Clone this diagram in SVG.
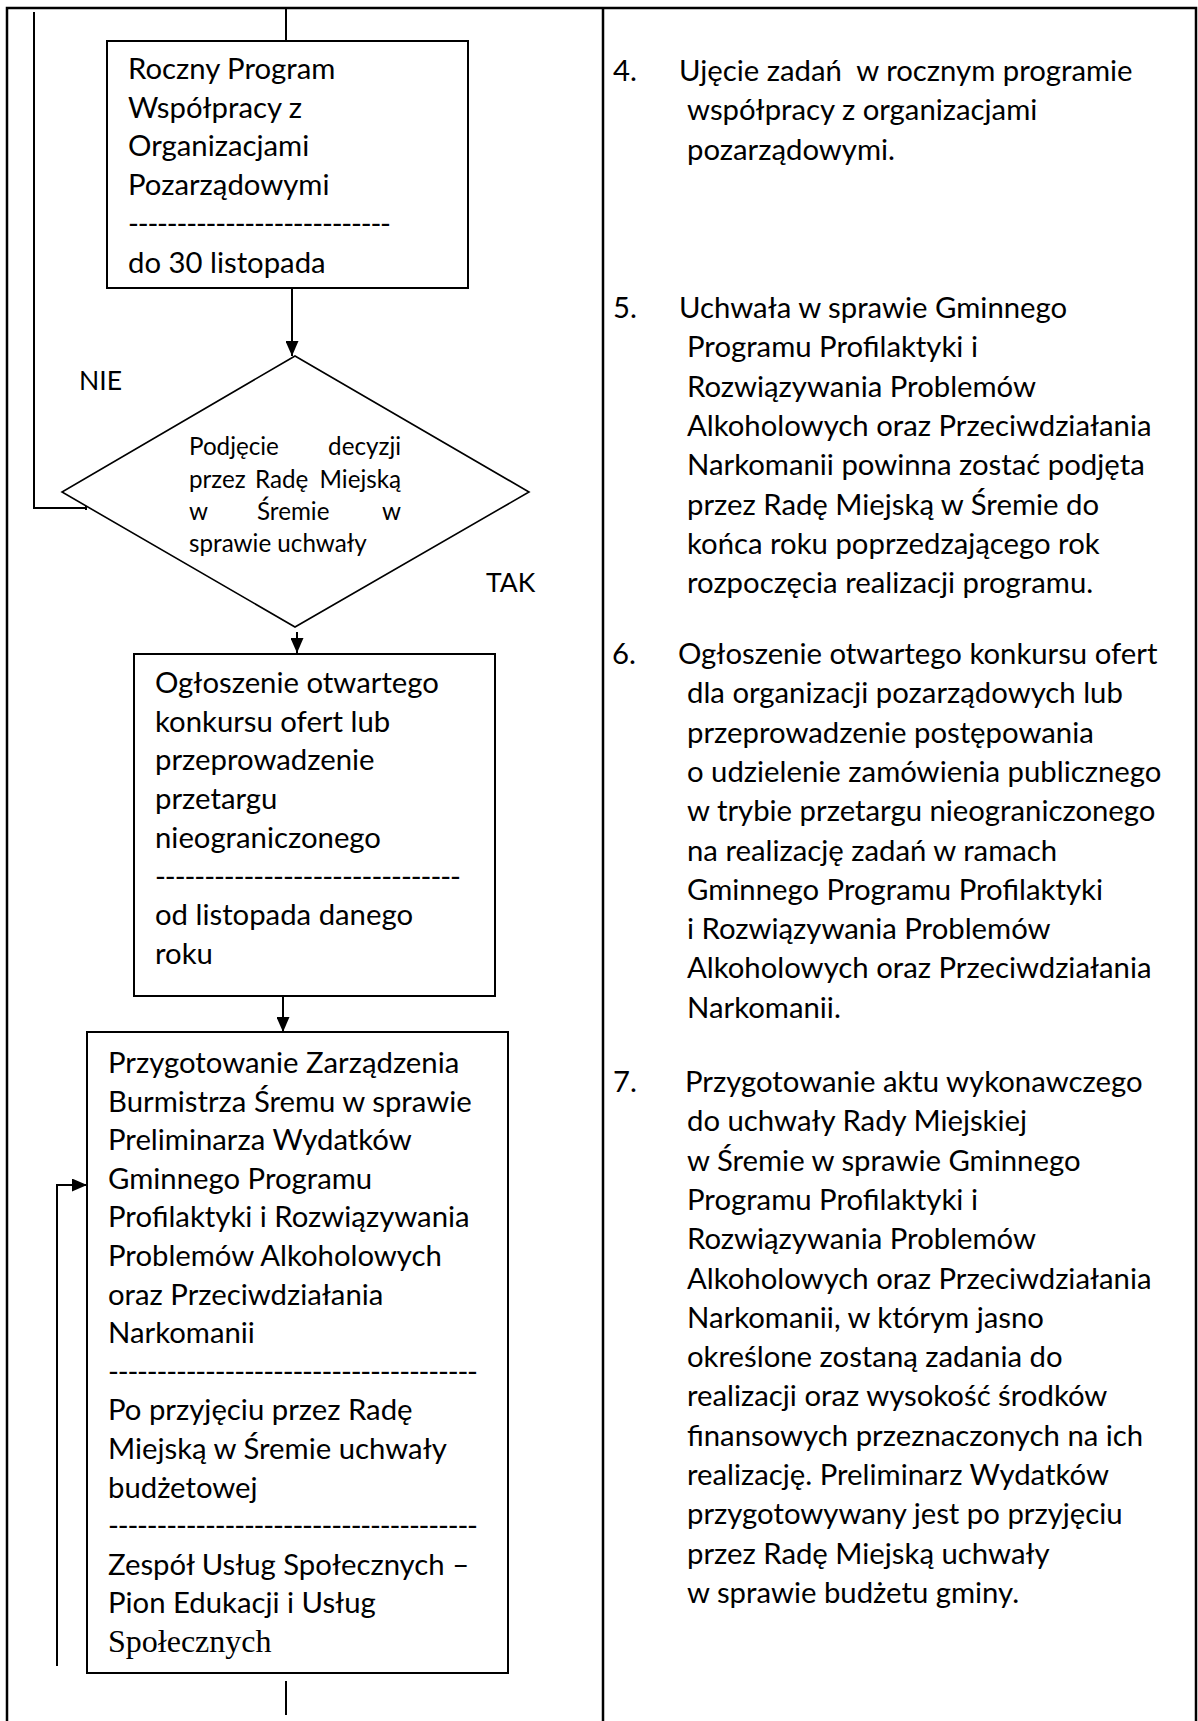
<svg xmlns="http://www.w3.org/2000/svg" width="1198" height="1721" viewBox="0 0 1198 1721">
<style>
.frame{fill:none;stroke:#000;stroke-width:2.5}
.box{fill:#fff;stroke:#000;stroke-width:2}
.dia{fill:#fff;stroke:#000;stroke-width:1.6}
.con{fill:none;stroke:#000;stroke-width:2}
.t{font-family:Lato,"Liberation Sans",sans-serif;font-size:29.3px;fill:#000;white-space:pre}
.d{font-family:Lato,"Liberation Sans",sans-serif;font-size:24.2px;fill:#000}
.lb{font-family:Lato,"Liberation Sans",sans-serif;font-size:26.5px;fill:#000}
.s{font-family:"Liberation Serif","Times New Roman",serif;font-size:32px;fill:#000}
</style>
<defs>
<marker id="ah" viewBox="0 0 15 13" refX="15" refY="6.5" markerWidth="15" markerHeight="13" markerUnits="userSpaceOnUse" orient="auto">
<path d="M0,0 L15,6.5 L0,13 z" fill="#000"/>
</marker>
</defs>
<rect x="0" y="0" width="1198" height="1721" fill="#fff"/>
<g id="frame">
<path class="frame" d="M7,1721 V8 H1196 V1721"/>
<path class="frame" d="M603,8 V1721"/>
</g>
<g id="connectors">
<path class="con" d="M286,8 V41"/>
<path class="con" d="M292,288 V356" marker-end="url(#ah)"/>
<path class="con" d="M34,12 V508 H86 M86,503 V510"/>
<path class="con" d="M297,632 V653" marker-end="url(#ah)"/>
<path class="con" d="M283,996 V1032" marker-end="url(#ah)"/>
<path class="con" d="M57,1666 V1185 H87" marker-end="url(#ah)"/>
<path class="con" d="M286,1681 V1715"/>
<text class="lb" x="79" y="390">NIE</text>
<text class="lb" x="486" y="592">TAK</text>
</g>
<g id="box1">
<rect class="box" x="107" y="41" width="361" height="247"/>
<text class="t" x="128" y="79">Roczny Program</text>
<text class="t" x="128" y="117.7">Współpracy z</text>
<text class="t" x="128" y="156.4">Organizacjami</text>
<text class="t" x="128" y="195.1">Pozarządowymi</text>
<text class="t" x="128" y="233.8" textLength="263">---------------------------</text>
<text class="t" x="128" y="272.5">do 30 listopada</text>
</g>
<g id="decision">
<polygon class="dia" points="295,356 529,492 295,627 62,492"/>
<text class="d" x="189" y="455">Podjęcie</text>
<text class="d" x="401" y="455" text-anchor="end">decyzji</text>
<text class="d" x="189" y="488">przez</text>
<text class="d" x="255" y="488">Radę</text>
<text class="d" x="401" y="488" text-anchor="end">Miejską</text>
<text class="d" x="189" y="520">w</text>
<text class="d" x="257" y="520">Śremie</text>
<text class="d" x="401" y="520" text-anchor="end">w</text>
<text class="d" x="189" y="552">sprawie uchwały</text>
</g>
<g id="box2">
<rect class="box" x="134" y="654" width="361" height="342"/>
<text class="t" x="155" y="693">Ogłoszenie otwartego</text>
<text class="t" x="155" y="731.7">konkursu ofert lub</text>
<text class="t" x="155" y="770.4">przeprowadzenie</text>
<text class="t" x="155" y="809.1">przetargu</text>
<text class="t" x="155" y="847.8">nieograniczonego</text>
<text class="t" x="155" y="886.5" textLength="306">-------------------------------</text>
<text class="t" x="155" y="925.2">od listopada danego</text>
<text class="t" x="155" y="963.9">roku</text>
</g>
<g id="box3">
<rect class="box" x="87" y="1032" width="421" height="641"/>
<text class="t" x="108" y="1073">Przygotowanie Zarządzenia</text>
<text class="t" x="108" y="1111.6">Burmistrza Śremu w sprawie</text>
<text class="t" x="108" y="1150.2">Preliminarza Wydatków</text>
<text class="t" x="108" y="1188.8">Gminnego Programu</text>
<text class="t" x="108" y="1227.4">Profilaktyki i Rozwiązywania</text>
<text class="t" x="108" y="1266">Problemów Alkoholowych</text>
<text class="t" x="108" y="1304.6">oraz Przeciwdziałania</text>
<text class="t" x="108" y="1343.2">Narkomanii</text>
<text class="t" x="108" y="1381.8" textLength="370">--------------------------------------</text>
<text class="t" x="108" y="1420.4">Po przyjęciu przez Radę</text>
<text class="t" x="108" y="1459">Miejską w Śremie uchwały</text>
<text class="t" x="108" y="1497.6">budżetowej</text>
<text class="t" x="108" y="1536.2" textLength="370">--------------------------------------</text>
<text class="t" x="108" y="1574.8">Zespół Usług Społecznych –</text>
<text class="t" x="108" y="1613.4">Pion Edukacji i Usług</text>
<text class="s" x="108" y="1652">Społecznych</text>
</g>
<g id="notes">
<text class="t" x="613" y="81">4.</text>
<text class="t" x="679" y="81">Ujęcie zadań  w rocznym programie</text>
<text class="t" x="687" y="120.3">współpracy z organizacjami</text>
<text class="t" x="687" y="159.6">pozarządowymi.</text>

<text class="t" x="613" y="318">5.</text>
<text class="t" x="679" y="318">Uchwała w sprawie Gminnego</text>
<text class="t" x="687" y="357.3">Programu Profilaktyki i</text>
<text class="t" x="687" y="396.6">Rozwiązywania Problemów</text>
<text class="t" x="687" y="435.9">Alkoholowych oraz Przeciwdziałania</text>
<text class="t" x="687" y="475.2">Narkomanii powinna zostać podjęta</text>
<text class="t" x="687" y="514.5">przez Radę Miejską w Śremie do</text>
<text class="t" x="687" y="553.8">końca roku poprzedzającego rok</text>
<text class="t" x="687" y="593.1">rozpoczęcia realizacji programu.</text>

<text class="t" x="612" y="664">6.</text>
<text class="t" x="678" y="664">Ogłoszenie otwartego konkursu ofert</text>
<text class="t" x="687" y="703.3">dla organizacji pozarządowych lub</text>
<text class="t" x="687" y="742.6">przeprowadzenie postępowania</text>
<text class="t" x="687" y="781.9">o udzielenie zamówienia publicznego</text>
<text class="t" x="687" y="821.2">w trybie przetargu nieograniczonego</text>
<text class="t" x="687" y="860.5">na realizację zadań w ramach</text>
<text class="t" x="687" y="899.8">Gminnego Programu Profilaktyki</text>
<text class="t" x="687" y="939.1">i Rozwiązywania Problemów</text>
<text class="t" x="687" y="978.4">Alkoholowych oraz Przeciwdziałania</text>
<text class="t" x="687" y="1017.7">Narkomanii.</text>

<text class="t" x="613" y="1092">7.</text>
<text class="t" x="685" y="1092">Przygotowanie aktu wykonawczego</text>
<text class="t" x="687" y="1131.3">do uchwały Rady Miejskiej</text>
<text class="t" x="687" y="1170.6">w Śremie w sprawie Gminnego</text>
<text class="t" x="687" y="1209.9">Programu Profilaktyki i</text>
<text class="t" x="687" y="1249.2">Rozwiązywania Problemów</text>
<text class="t" x="687" y="1288.5">Alkoholowych oraz Przeciwdziałania</text>
<text class="t" x="687" y="1327.8">Narkomanii, w którym jasno</text>
<text class="t" x="687" y="1367.1">określone zostaną zadania do</text>
<text class="t" x="687" y="1406.4">realizacji oraz wysokość środków</text>
<text class="t" x="687" y="1445.7">finansowych przeznaczonych na ich</text>
<text class="t" x="687" y="1485">realizację. Preliminarz Wydatków</text>
<text class="t" x="687" y="1524.3">przygotowywany jest po przyjęciu</text>
<text class="t" x="687" y="1563.6">przez Radę Miejską uchwały</text>
<text class="t" x="687" y="1602.9">w sprawie budżetu gminy.</text>
</g>
</svg>
